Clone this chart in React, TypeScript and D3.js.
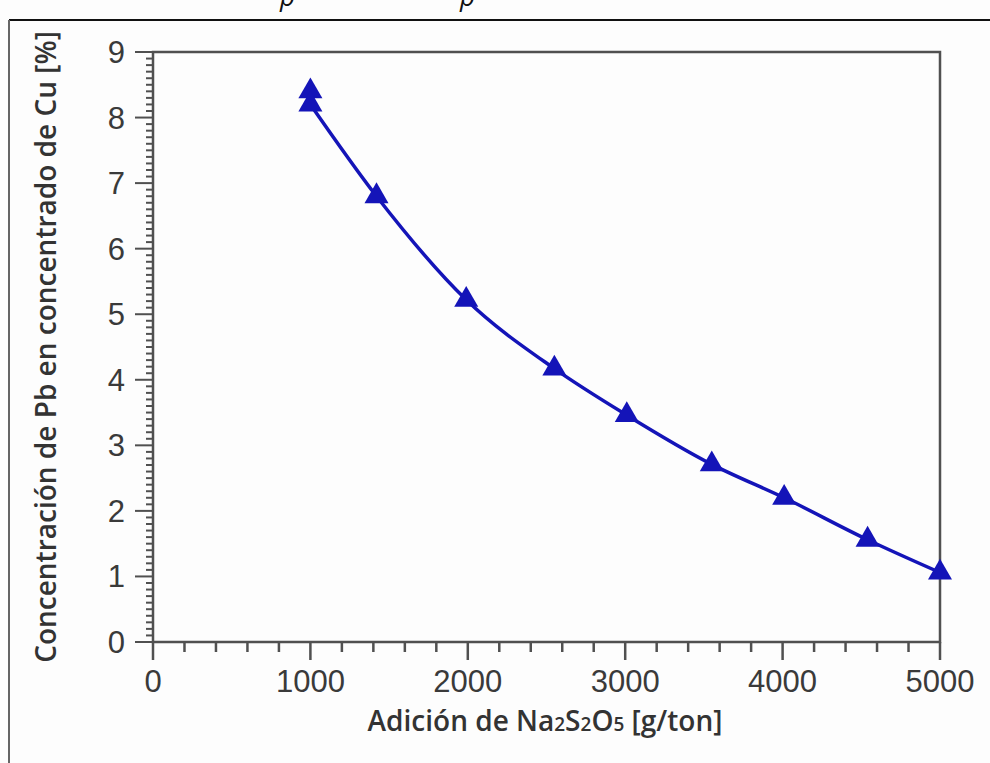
import React, { useEffect, useRef } from 'react';
import * as d3 from 'd3';

// values
const adicion = [1000, 1000, 1420, 1990, 2550, 3010, 3550, 4010, 4540, 5000];
const concentracion = [8.4, 8.2, 6.8, 5.22, 4.17, 3.46, 2.71, 2.2, 1.56, 1.06];
const xTicks = [0, 1000, 2000, 3000, 4000, 5000];
const yTicks = [0, 1, 2, 3, 4, 5, 6, 7, 8, 9];

const W = 990;
const H = 763;

const App = () => {
  const ref = useRef<SVGSVGElement>(null);

  useEffect(() => {
    const svg = d3.select(ref.current);
    svg.selectAll('*').remove();

    svg.append('rect').attr('width', W).attr('height', H).attr('fill', '#fdfdfd');

    // page frame of the cropped figure
    svg.append('line').attr('x1', 9).attr('x2', W).attr('y1', 20).attr('y2', 20)
      .attr('stroke', '#111').attr('stroke-width', 2);
    svg.append('line').attr('x1', 9).attr('x2', 9).attr('y1', 20).attr('y2', H)
      .attr('stroke', '#666').attr('stroke-width', 2);

    // descenders of the cut-off caption above the frame
    svg.append('text').attr('x', 280).attr('y', 6).text('p')
      .attr('font-family', 'Open Sans').attr('font-style', 'italic').attr('font-size', 26).attr('fill', '#111');
    svg.append('text').attr('x', 460).attr('y', 6).text('p')
      .attr('font-family', 'Open Sans').attr('font-style', 'italic').attr('font-size', 26).attr('fill', '#111');

    const x = d3.scaleLinear().domain([0, 5000]).range([153, 940]);
    const y = d3.scaleLinear().domain([0, 9]).range([642, 52]);

    const axisColor = '#505050';
    const g = svg.append('g');

    // box
    g.append('path')
      .attr('d', `M${x(0)},${y(0)}V${y(9)}H${x(5000)}V${y(0)}Z`)
      .attr('fill', 'none').attr('stroke', axisColor).attr('stroke-width', 2.5);

    // x ticks
    const xMinor = d3.range(0, 5001, 200);
    g.selectAll('.xt').data(xMinor).enter().append('line')
      .attr('x1', (d) => x(d)).attr('x2', (d) => x(d))
      .attr('y1', y(0)).attr('y2', (d) => y(0) + (d % 1000 === 0 ? 18 : 10))
      .attr('stroke', axisColor).attr('stroke-width', 2.5);
    g.selectAll('.xl').data(xTicks).enter().append('text')
      .attr('x', (d) => x(d)).attr('y', y(0) + 50)
      .attr('text-anchor', 'middle')
      .attr('font-family', 'Liberation Sans, Arial').attr('font-size', 31).attr('fill', '#3a3a3a')
      .text((d) => d);

    // y ticks
    const yMinor = d3.range(0, 91).map((d) => d / 10);
    g.selectAll('.yt').data(yMinor).enter().append('line')
      .attr('y1', (d) => y(d)).attr('y2', (d) => y(d))
      .attr('x1', x(0)).attr('x2', (_, i) => x(0) - (i % 10 === 0 ? 18 : 7))
      .attr('stroke', axisColor).attr('stroke-width', 2);
    g.selectAll('.yl').data(yTicks).enter().append('text')
      .attr('x', 125).attr('y', (d) => y(d) + 11)
      .attr('text-anchor', 'end')
      .attr('font-family', 'Liberation Sans, Arial').attr('font-size', 31).attr('fill', '#3a3a3a')
      .text((d) => d);

    // axis titles
    const xt = g.append('text').attr('x', 545).attr('y', 731).attr('text-anchor', 'middle')
      .attr('font-family', 'Open Sans').attr('font-size', 28).attr('font-weight', 600).attr('fill', '#333');
    xt.append('tspan').text('Adición de Na');
    xt.append('tspan').attr('font-size', 19).text('2');
    xt.append('tspan').text('S');
    xt.append('tspan').attr('font-size', 19).text('2');
    xt.append('tspan').text('O');
    xt.append('tspan').attr('font-size', 19).text('5');
    xt.append('tspan').text(' [g/ton]');

    g.append('text').attr('transform', `translate(56,${(y(0) + y(9)) / 2}) rotate(-90)`)
      .attr('text-anchor', 'middle')
      .attr('font-family', 'Open Sans').attr('font-size', 28).attr('font-weight', 600).attr('fill', '#333')
      .text('Concentración de Pb en concentrado de Cu [%]');

    // curve and markers
    const blue = '#1414b8';
    const pts = adicion.map((a, i) => [a, concentracion[i]] as [number, number]);
    const line = d3.line<[number, number]>().x((d) => x(d[0])).y((d) => y(d[1])).curve(d3.curveMonotoneX);
    g.append('path').attr('d', line(pts.slice(1)))
      .attr('fill', 'none').attr('stroke', blue).attr('stroke-width', 3.5);

    const tri = d3.symbol().type(d3.symbolTriangle).size(250);
    g.selectAll('.m').data(pts).enter().append('path')
      .attr('d', tri)
      .attr('transform', (d) => `translate(${x(d[0])},${y(d[1])})`)
      .attr('fill', blue);
  }, []);

  return (
    <svg ref={ref} width={W} height={H} style={{ position: 'absolute', left: 0, top: 0 }} />
  );
};

export default App;
